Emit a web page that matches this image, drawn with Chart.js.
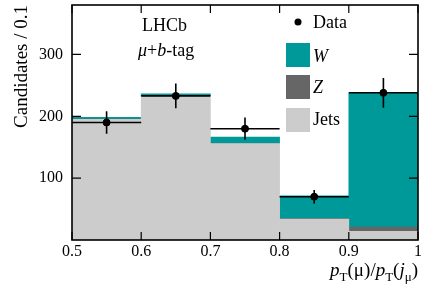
<!DOCTYPE html>
<html>
<head>
<meta charset="utf-8">
<script src="https://cdn.jsdelivr.net/npm/chart.js@4.4.0/dist/chart.umd.min.js"></script>
<style>
  html, body { margin: 0; padding: 0; background: #fff; }
  #wrap { width: 427px; height: 290px; }
</style>
</head>
<body>
<div id="wrap"><canvas id="chart" width="427" height="290"></canvas></div>
<script>
// bins of pT(mu)/pT(j_mu), width 0.1
var binCenters = [0.55, 0.65, 0.75, 0.85, 0.95];
var jetsValues = [195, 233, 156, 34, 14];
var zValues = [0.5, 0.5, 0.5, 0.5, 7];
var wValues = [3, 3, 10, 37, 217];
var dataValues = [190, 233, 180, 70, 238];
var dataErrors = [18, 20, 18, 11, 24];
var xTickValues = [0.5, 0.6, 0.7, 0.8, 0.9, 1.0];
var yTickValues = [100, 200, 300];

var TEAL = "#009999";
var DARK = "#666666";
var LIGHT = "#cccccc";
var SERIF = "'Liberation Serif', 'DejaVu Serif', serif";

function pts(values) {
    return values.map(function (v, i) { return { x: binCenters[i], y: v }; });
}

// ROOT-like frame, inside ticks, error bars and the texts
var decor = {
    id: "decor",
    afterDatasetsDraw: function (chart) {
        var ctx = chart.ctx, xs = chart.scales.x, ys = chart.scales.yData;
        ctx.save();
        ctx.strokeStyle = "#000";
        ctx.lineWidth = 1.6;
        ctx.beginPath();
        dataValues.forEach(function (v, i) {
            var cx = xs.getPixelForValue(binCenters[i]);
            var cy = ys.getPixelForValue(v);
            ctx.moveTo(xs.getPixelForValue(binCenters[i] - 0.05), cy);
            ctx.lineTo(xs.getPixelForValue(binCenters[i] + 0.05), cy);
            ctx.moveTo(cx, ys.getPixelForValue(v - dataErrors[i]));
            ctx.lineTo(cx, ys.getPixelForValue(v + dataErrors[i]));
        });
        ctx.stroke();
        ctx.restore();
    },
    afterDraw: function (chart) {
        var ctx = chart.ctx, a = chart.chartArea, xs = chart.scales.x, ys = chart.scales.y;
        ctx.save();
        ctx.strokeStyle = "#000";
        ctx.lineWidth = 1.2;
        ctx.beginPath();
        xTickValues.forEach(function (v) {
            var px = xs.getPixelForValue(v);
            ctx.moveTo(px, a.bottom); ctx.lineTo(px, a.bottom - 8);
            ctx.moveTo(px, a.top); ctx.lineTo(px, a.top + 8);
        });
        yTickValues.forEach(function (v) {
            var py = ys.getPixelForValue(v);
            ctx.moveTo(a.left, py); ctx.lineTo(a.left + 9, py);
            ctx.moveTo(a.right, py); ctx.lineTo(a.right - 9, py);
        });
        ctx.stroke();
        ctx.lineWidth = 1.6;
        ctx.strokeRect(a.left, a.top, a.right - a.left, a.bottom - a.top);

        ctx.fillStyle = "#000";
        ctx.textBaseline = "alphabetic";

        // y title
        ctx.save();
        ctx.translate(27, a.top);
        ctx.rotate(-Math.PI / 2);
        ctx.textAlign = "right";
        ctx.font = "19px " + SERIF;
        ctx.fillText("Candidates / 0.1", 0, 0);
        ctx.restore();

        ctx.textAlign = "left";
        // LHCb label
        ctx.font = "18px " + SERIF;
        ctx.fillText("LHCb", 142, 31);
        var x = 138;
        [["\u03bc", "italic "], ["+", ""], ["b", "italic "], ["-tag", ""]].forEach(function (p) {
            ctx.font = p[1] + "18px " + SERIF;
            ctx.fillText(p[0], x, 56);
            x += ctx.measureText(p[0]).width;
        });

        // legend
        ctx.beginPath();
        ctx.arc(298, 22, 3.5, 0, Math.PI * 2);
        ctx.fill();
        ctx.font = "18px " + SERIF;
        ctx.fillText("Data", 313, 28);
        ctx.fillStyle = TEAL; ctx.fillRect(286, 43, 24, 24);
        ctx.fillStyle = DARK; ctx.fillRect(286, 75, 24, 24);
        ctx.fillStyle = LIGHT; ctx.fillRect(286, 108, 24, 24);
        ctx.fillStyle = "#000";
        ctx.font = "italic 18px " + SERIF;
        ctx.fillText("W", 313, 62);
        ctx.fillText("Z", 313, 93);
        ctx.font = "18px " + SERIF;
        ctx.fillText("Jets", 313, 125);

        // x title, right aligned
        var parts = [
            ["p", "italic ", false], ["T", "", true], ["(\u03bc)/", "", false],
            ["p", "italic ", false], ["T", "", true], ["(", "", false],
            ["j", "italic ", false], ["\u03bc", "", true], [")", "", false]
        ];
        var widths = parts.map(function (p) {
            ctx.font = p[1] + (p[2] ? "13px " : "19px ") + SERIF;
            return ctx.measureText(p[0]).width;
        });
        var total = widths.reduce(function (s, w) { return s + w; }, 0);
        x = a.right - total;
        parts.forEach(function (p, i) {
            ctx.font = p[1] + (p[2] ? "13px " : "19px ") + SERIF;
            ctx.fillText(p[0], x, p[2] ? 281 : 276);
            x += widths[i];
        });
        ctx.restore();
    }
};

var ctx = document.getElementById("chart");
var chart = new Chart(ctx, {
    type: "bar",
    data: {
        datasets: [
            { label: "Jets", data: pts(jetsValues), backgroundColor: LIGHT, borderWidth: 0, order: 1 },
            { label: "Z", data: pts(zValues), backgroundColor: DARK, borderWidth: 0, order: 1 },
            { label: "W", data: pts(wValues), backgroundColor: TEAL, borderWidth: 0, order: 1 },
            {
                type: "scatter", label: "Data", data: pts(dataValues), yAxisID: "yData",
                backgroundColor: "#000", borderColor: "#000", pointRadius: 3.5, order: 0
            }
        ]
    },
    options: {
        responsive: false,
        animation: false,
        layout: { padding: { top: 5, right: 9, left: 0, bottom: 0 } },
        datasets: { bar: { barPercentage: 1, categoryPercentage: 1 } },
        plugins: { legend: { display: false }, tooltip: { enabled: false } },
        scales: {
            x: {
                type: "linear", min: 0.5, max: 1.0, offset: false, stacked: true,
                grid: { display: false, drawTicks: false }, border: { display: false },
                afterBuildTicks: function (s) { s.ticks = xTickValues.map(function (v) { return { value: v }; }); },
                afterFit: function (s) { s.height = 50; s.paddingLeft = 0; s.paddingRight = 0; },
                ticks: {
                    autoSkip: false, maxRotation: 0, padding: 2, color: "#000",
                    font: { family: SERIF, size: 16 },
                    callback: function (v) { return String(+v.toFixed(1)); }
                }
            },
            y: {
                min: 0, max: 380, stacked: true,
                grid: { display: false, drawTicks: false }, border: { display: false },
                afterBuildTicks: function (s) { s.ticks = yTickValues.map(function (v) { return { value: v }; }); },
                afterFit: function (s) { s.width = 72; s.paddingTop = 0; s.paddingBottom = 0; },
                ticks: { padding: 9, color: "#000", font: { family: SERIF, size: 16 } }
            },
            yData: { display: false, min: 0, max: 380 }
        }
    },
    plugins: [decor]
});
</script>
</body>
</html>
